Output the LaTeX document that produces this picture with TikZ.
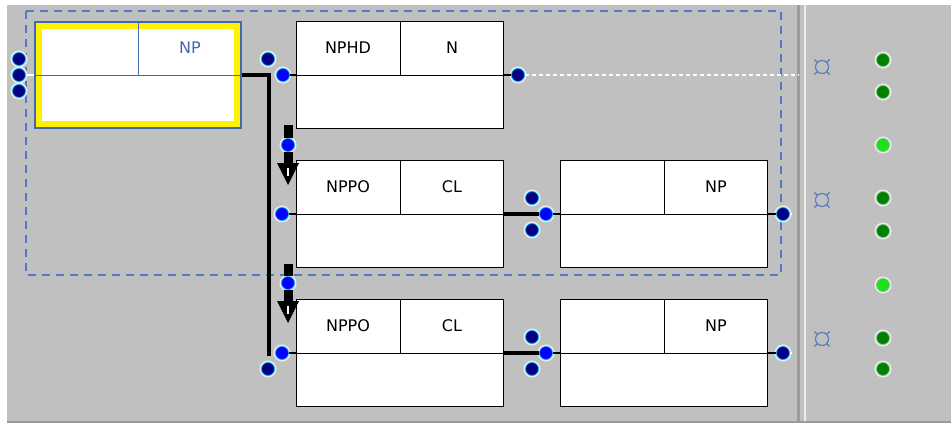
\documentclass[tikz,border=0pt]{standalone}
\usepackage{fontspec}
\setmainfont{DejaVu Sans}
\usetikzlibrary{arrows.meta,positioning,calc}
\definecolor{panelgray}{RGB}{192,192,192}
\definecolor{edgegray}{RGB}{155,155,155}
\definecolor{selblue}{RGB}{65,105,175}
\definecolor{dashblue}{RGB}{85,120,195}
\definecolor{portdark}{RGB}{0,0,128}
\definecolor{portblue}{RGB}{0,0,255}
\definecolor{okgreen}{RGB}{0,128,0}
\definecolor{litgreen}{RGB}{30,225,30}

\begin{document}
\begin{tikzpicture}[x=1pt,y=-1pt,font=\fontsize{16}{18}\selectfont,
    slot/.style={draw,line width=1pt,fill=white,inner sep=0pt,
      minimum width=207pt,minimum height=107pt},
    port/.style={circle,inner sep=0pt,minimum size=13pt,draw=cyan,line width=0.8pt,
      preaction={draw=white!70!panelgray,line width=4pt}},
    dport/.style={port,fill=portdark},
    bport/.style={port,fill=portblue},
    gport/.style={port,draw=okgreen!50!white,fill=#1},
    wire/.style={line width=3.5pt},
    stub/.style={line width=1.5pt},
    block/.style={line width=9pt,-{Triangle[length=22pt,width=22pt,line width=0pt]}},
    trail/.style={white,line width=1.5pt,dash pattern=on 4pt off 3pt}]
  \useasboundingbox (0,0) rectangle (951,423);
  \fill[white] (0,0) rectangle (951,423);
  \fill[panelgray] (7,5) rectangle (951,421);
  \fill[edgegray] (7,421) rectangle (951,423);
  \fill[edgegray] (797,5) rectangle (800,421);
  \fill[white!70!panelgray] (804,5) rectangle (805.5,421);

  \draw[dashblue,line width=1.2pt,dash pattern=on 8pt off 6pt] (26,11) rectangle (781,275);

  % selected phrase
  \node[draw=selblue,line width=2pt,fill=yellow,inner sep=0pt,
    minimum width=206pt,minimum height=106pt] (np) at (138,75) {};
  \fill[white] ($(np.north west)+(8,8)$) rectangle ($(np.south east)+(-8,-8)$);
  \draw[selblue,line width=1pt] (np.west) -- (np.east) (np.north) -- (np.center);
  \node[text=selblue] (np-r) at ($(np.north east)!0.5!(np.center)$) {NP};

  \node[slot] (hd) at (400,75) {};
  \node[slot] (po1) at (400,214) {};
  \node[slot] (np1) at (664,214) {};
  \node[slot] (po2) at (400,353) {};
  \node[slot] (np2) at (664,353) {};
  \foreach \b in {hd,po1,np1,po2,np2}
    \draw[line width=1pt] (\b.west) -- (\b.east) (\b.north) -- (\b.center);

  \node (hd-l) at ($(hd.north west)!0.5!(hd.center)$) {NPHD};
  \node (hd-r) at ($(hd.north east)!0.5!(hd.center)$) {N};
  \node (po1-l) at ($(po1.north west)!0.5!(po1.center)$) {NPPO};
  \node (po1-r) at ($(po1.north east)!0.5!(po1.center)$) {CL};
  \node (np1-r) at ($(np1.north east)!0.5!(np1.center)$) {NP};
  \node (po2-l) at ($(po2.north west)!0.5!(po2.center)$) {NPPO};
  \node (po2-r) at ($(po2.north east)!0.5!(po2.center)$) {CL};
  \node (np2-r) at ($(np2.north east)!0.5!(np2.center)$) {NP};

  % ports
  \node[dport] (np-a) at (19,59) {};
  \node[dport] (np-b) at (19,75) {};
  \node[dport] (np-c) at (19,91) {};
  \node[dport] (hd-up) at (268,59) {};
  \node[bport] (hd-in) at (283,75) {};
  \node[dport] (hd-out) at (518,75) {};
  \node[bport] (po1-top) at (288,145) {};
  \node[bport] (po1-in) at (282,214) {};
  \node[dport] (np1-up) at (532,198) {};
  \node[bport] (np1-in) at (546,214) {};
  \node[dport] (np1-dn) at (532,230) {};
  \node[dport] (np1-out) at (783,214) {};
  \node[bport] (po2-top) at (288,283) {};
  \node[bport] (po2-in) at (282,353) {};
  \node[dport] (po2-dn) at (268,369) {};
  \node[dport] (np2-up) at (532,337) {};
  \node[bport] (np2-in) at (546,353) {};
  \node[dport] (np2-dn) at (532,369) {};
  \node[dport] (np2-out) at (783,353) {};

  \coordinate (bend) at (269,356);
  \coordinate (po1-stem) at (288,125);
  \coordinate (po1-tip) at (288,185);
  \coordinate (po2-stem) at (288,264);
  \coordinate (po2-tip) at (288,323);
  \coordinate (hd-end) at (798,75);
  \coordinate (np1-end) at (792,214);
  \coordinate (np2-end) at (792,353);

  % connectors
  \draw[wire] (np.east) -| (bend);
  \draw[white,stub] (np-b.east) -- (np.west);
  \draw[stub] (hd-in.east) -- (hd.west);
  \draw[stub] (hd.east) -- (hd-out.west);
  \draw[trail] (hd-out.east) -- (hd-end);
  \draw[line width=9pt] (po1-stem) -- (po1-top.north);
  \draw[block] (po1-top.south) -- (po1-tip);
  \draw[white,line width=1.5pt] ($(po1-tip)+(0,-17)$) -- ++(0,8);
  \draw[stub] (po1-in.east) -- (po1.west);
  \draw[wire] (po1.east) -- (np1-in.west);
  \draw[stub] (np1-in.east) -- (np1.west);
  \draw[stub] (np1.east) -- (np1-out.west);
  \draw[trail] (np1-out.east) -- (np1-end);
  \draw[line width=9pt] (po2-stem) -- (po2-top.north);
  \draw[block] (po2-top.south) -- (po2-tip);
  \draw[white,line width=1.5pt] ($(po2-tip)+(0,-17)$) -- ++(0,8);
  \draw[stub] (po2-in.east) -- (po2.west);
  \draw[wire] (po2.east) -- (np2-in.west);
  \draw[stub] (np2-in.east) -- (np2.west);
  \draw[stub] (np2.east) -- (np2-out.west);
  \draw[trail] (np2-out.east) -- (np2-end);

  % side panel
  \foreach \y in {67,200,339}
    \draw[dashblue,line width=1.1pt] (822,\y) circle (6.5pt)
      (817.4,\y-4.6) -- ++(-3,-3) (826.6,\y-4.6) -- ++(3,-3)
      (817.4,\y+4.6) -- ++(-3,3) (826.6,\y+4.6) -- ++(3,3);
  \foreach \y/\c [count=\i] in {60/okgreen,92/okgreen,145/litgreen,198/okgreen,
      231/okgreen,285/litgreen,338/okgreen,369/okgreen}
    \node[gport=\c] (led-\i) at (883,\y) {};
\end{tikzpicture}
\end{document}
